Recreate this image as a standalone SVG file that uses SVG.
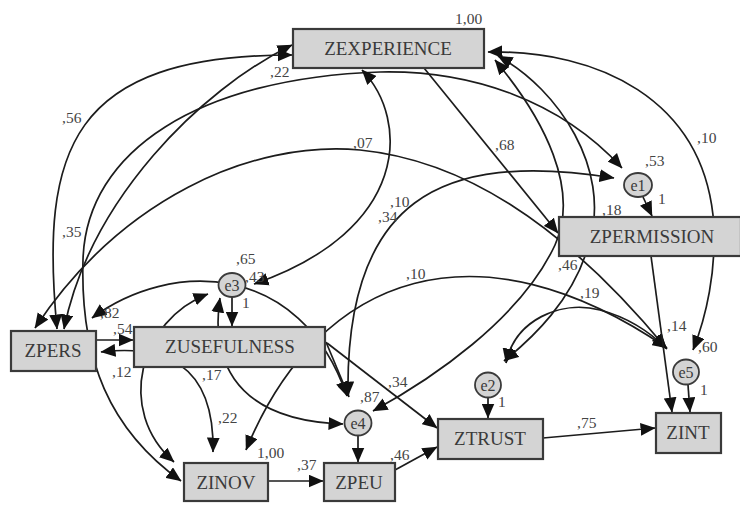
<svg xmlns="http://www.w3.org/2000/svg" width="740" height="505" viewBox="0 0 740 505">
<defs>
<marker id="ah" viewBox="0 0 14 12" refX="13.5" refY="6" markerWidth="15" markerHeight="13" markerUnits="userSpaceOnUse" orient="auto-start-reverse"><path d="M0,0 L14,6 L0,12 z" fill="#111"/></marker>
<style>
.c{fill:none;stroke:#1c1c1c;stroke-width:1.7;marker-end:url(#ah)}
.d{marker-start:url(#ah)}
.box{fill:#d4d4d4;stroke:#3a3a3a;stroke-width:2.2}
.el{fill:#d4d4d4;stroke:#3a3a3a;stroke-width:1.8}
.nt{font-family:"Liberation Serif","Times New Roman",serif;font-size:19px;fill:#3a3a3a;text-anchor:middle}
.et{font-family:"Liberation Serif","Times New Roman",serif;font-size:16px;fill:#3a3a3a;text-anchor:middle}
.lb{font-family:"Liberation Serif","Times New Roman",serif;font-size:15.5px;fill:#444}
</style>
</defs>
<rect width="740" height="505" fill="#fff"/>
<g id="connectors">
<path class="c d" d="M57,329 C40,150 70,55 292,55"/>
<path class="c d" d="M64,329 C90,200 200,90 292,45"/>
<path class="c d" d="M181,481 C110,430 80,360 83,260 C86,150 200,78 380,72 C470,70 560,100 622,168"/>
<path class="c d" d="M35,328 C120,200 250,140 360,150 C460,160 560,220 666,348"/>
<path class="c d" d="M362,70 C410,120 410,230 254,284"/>
<path class="c d" d="M614,178 C440,150 345,200 348,396"/>
<path class="c d" d="M246,450 C320,270 480,220 667,348"/>
<path class="c d" d="M92,318 C170,260 300,260 347,396"/>
<path class="c d" d="M208,294 C140,320 115,410 174,462"/>
<path class="c d" d="M101,352 C160,345 215,360 213,452"/>
<path class="c d" d="M220,298 C212,350 225,420 343,424"/>
<path class="c d" d="M488,52 C600,50 700,100 713,215 C718,270 705,320 693,350"/>
<path class="c d" d="M495,60 C545,120 580,190 555,245 C520,320 430,380 373,411"/>
<path class="c d" d="M498,56 C560,90 610,170 590,240 C575,300 530,340 504,361"/>
<path class="c d" d="M506,363 C515,320 560,300 600,310 C630,318 650,332 667,349"/>
<path class="c" d="M424,68 L558,233"/>
<path class="c" d="M651,256 L672,412"/>
<path class="c" d="M643,197 L652,216"/>
<path class="c" d="M488,398 L488,418"/>
<path class="c" d="M358,436 L358,462"/>
<path class="c" d="M688,385 L690,412"/>
<path class="c" d="M232,297 L232,326"/>
<path class="c" d="M96,340 L133,340"/>
<path class="c" d="M268,481 L323,481"/>
<path class="c" d="M395,470 L437,447"/>
<path class="c" d="M543,438 L655,428"/>
<path class="c" d="M326,342 L349,397"/>
<path class="c" d="M327,343 L437,428"/>
</g>
<g id="ZEXPERIENCE"><rect class="box" x="293" y="29" width="191" height="39"/><text class="nt" x="388" y="55">ZEXPERIENCE</text></g>
<g id="ZPERMISSION"><rect class="box" x="559" y="217" width="182" height="39"/><text class="nt" x="652" y="243">ZPERMISSION</text></g>
<g id="ZPERS"><rect class="box" x="11" y="331" width="85" height="40"/><text class="nt" x="53" y="357">ZPERS</text></g>
<g id="ZUSEFULNESS"><rect class="box" x="134" y="327" width="191" height="40"/><text class="nt" x="230" y="353">ZUSEFULNESS</text></g>
<g id="ZINOV"><rect class="box" x="184" y="463" width="84" height="38"/><text class="nt" x="226" y="489">ZINOV</text></g>
<g id="ZPEU"><rect class="box" x="324" y="463" width="71" height="38"/><text class="nt" x="359" y="489">ZPEU</text></g>
<g id="ZTRUST"><rect class="box" x="438" y="419" width="105" height="40"/><text class="nt" x="490" y="445">ZTRUST</text></g>
<g id="ZINT"><rect class="box" x="656" y="413" width="65" height="40"/><text class="nt" x="688" y="439">ZINT</text></g>
<g id="e1"><ellipse class="el" cx="638" cy="185" rx="14" ry="12"/><text class="et" x="638" y="191">e1</text></g>
<g id="e2"><ellipse class="el" cx="488" cy="385" rx="13" ry="12.5"/><text class="et" x="488" y="391">e2</text></g>
<g id="e3"><ellipse class="el" cx="232" cy="285" rx="13.5" ry="12"/><text class="et" x="232" y="291">e3</text></g>
<g id="e4"><ellipse class="el" cx="358" cy="423" rx="13.5" ry="12.5"/><text class="et" x="358" y="429">e4</text></g>
<g id="e5"><ellipse class="el" cx="686" cy="372" rx="13" ry="12.5"/><text class="et" x="686" y="378">e5</text></g>
<g id="labels">
<text class="lb" x="455" y="24">1,00</text>
<text class="lb" x="62" y="123">,56</text>
<text class="lb" x="62" y="237">,35</text>
<text class="lb" x="270" y="77">,22</text>
<text class="lb" x="353" y="148">,07</text>
<text class="lb" x="390" y="207">,10</text>
<text class="lb" x="378" y="222">,34</text>
<text class="lb" x="406" y="279">,10</text>
<text class="lb" x="495" y="150">,68</text>
<text class="lb" x="697" y="143">,10</text>
<text class="lb" x="645" y="166">,53</text>
<text class="lb" x="658" y="204">1</text>
<text class="lb" x="602" y="215">,18</text>
<text class="lb" x="558" y="270">,46</text>
<text class="lb" x="236" y="264">,65</text>
<text class="lb" x="245" y="282">,43</text>
<text class="lb" x="242" y="308">1</text>
<text class="lb" x="100" y="318">,82</text>
<text class="lb" x="113" y="334">,54</text>
<text class="lb" x="112" y="377">,12</text>
<text class="lb" x="202" y="380">,17</text>
<text class="lb" x="218" y="423">,22</text>
<text class="lb" x="388" y="387">,34</text>
<text class="lb" x="360" y="402">,87</text>
<text class="lb" x="257" y="458">1,00</text>
<text class="lb" x="297" y="470">,37</text>
<text class="lb" x="390" y="460">,46</text>
<text class="lb" x="498" y="407">1</text>
<text class="lb" x="580" y="298">,19</text>
<text class="lb" x="667" y="331">,14</text>
<text class="lb" x="698" y="352">,60</text>
<text class="lb" x="700" y="395">1</text>
<text class="lb" x="577" y="428">,75</text>
</g>
</svg>
